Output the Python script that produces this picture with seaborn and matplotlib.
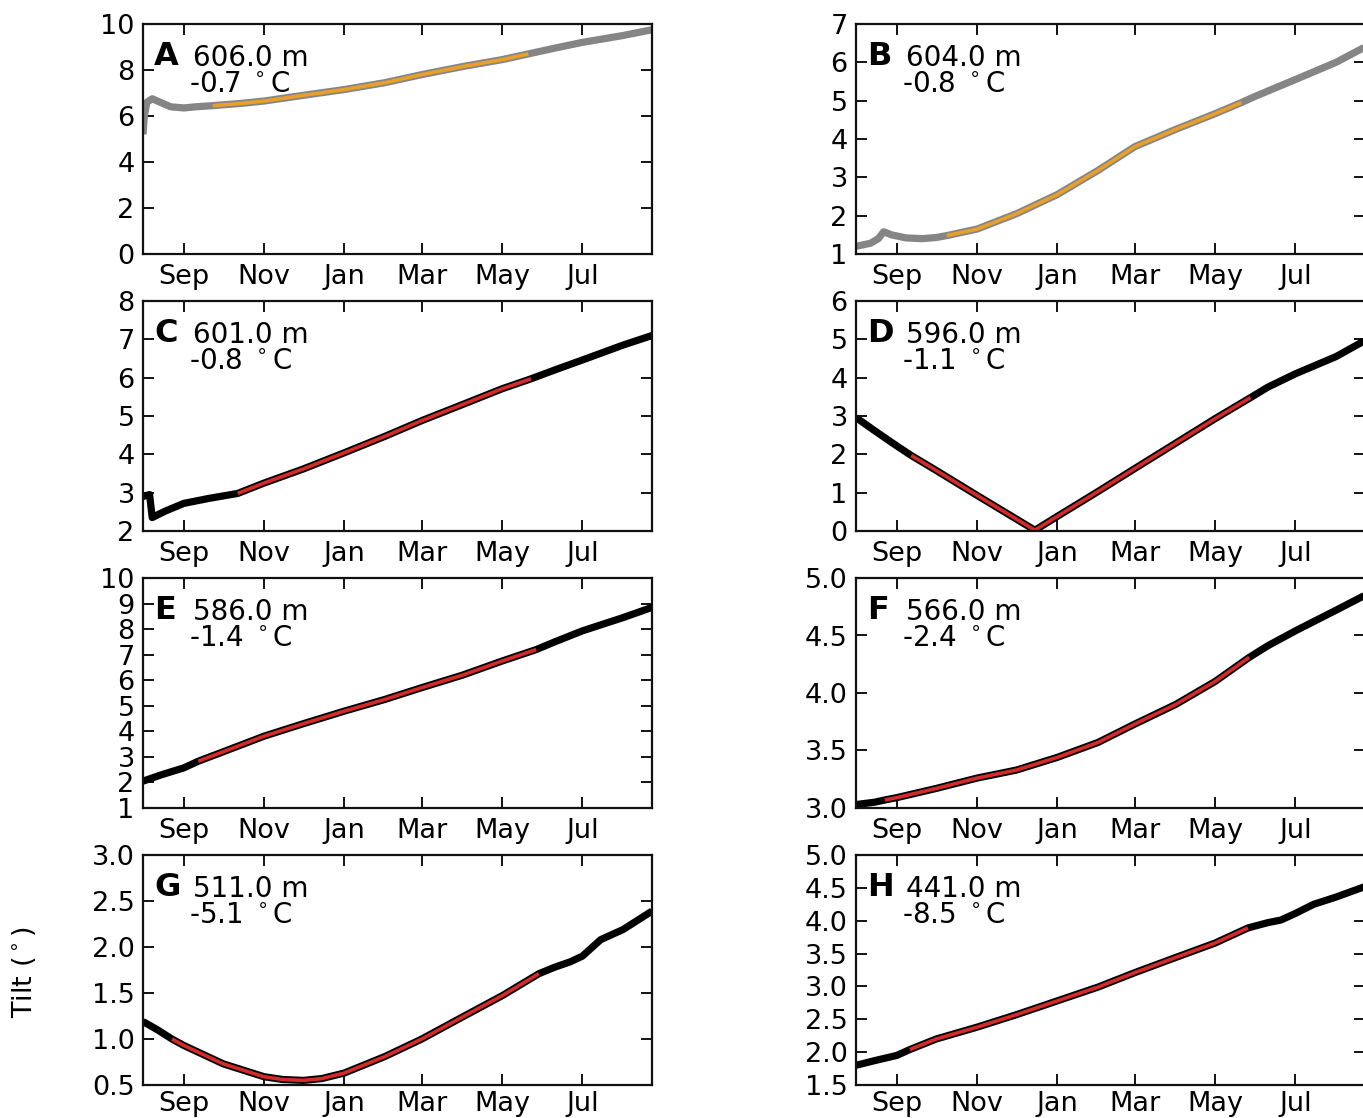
import matplotlib
matplotlib.use("Agg")
import matplotlib.pyplot as plt
import matplotlib.dates as mdates
import numpy as np
import pandas as pd
import seaborn as sns

# ---------------------------------------------------------------------------
# Borehole tilt records, one series per sensor depth
# ---------------------------------------------------------------------------
panel_letters = ["A", "B", "C", "D", "E", "F", "G", "H"]
depths_m = [606.0, 604.0, 601.0, 596.0, 586.0, 566.0, 511.0, 441.0]
temps_c = [-0.7, -0.8, -0.8, -1.1, -1.4, -2.4, -5.1, -8.5]

dates_a = ["2014-08-01", "2014-08-02", "2014-08-04", "2014-08-08", "2014-08-14",
           "2014-08-22", "2014-09-01", "2014-09-10", "2014-09-23", "2014-10-15",
           "2014-11-01", "2014-12-01", "2015-01-01", "2015-02-01", "2015-03-01",
           "2015-04-01", "2015-05-01", "2015-05-21", "2015-06-10", "2015-07-01",
           "2015-08-01", "2015-08-23"]
tilt_a = [5.2, 6.0, 6.6, 6.75, 6.6, 6.4, 6.35, 6.4, 6.45, 6.55,
          6.65, 6.9, 7.15, 7.45, 7.8, 8.15, 8.45, 8.7, 8.95, 9.2,
          9.5, 9.75]

dates_b = ["2014-08-01", "2014-08-12", "2014-08-18", "2014-08-22", "2014-08-28",
           "2014-09-08", "2014-09-20", "2014-10-01", "2014-10-09", "2014-11-01",
           "2014-12-01", "2015-01-01", "2015-02-01", "2015-03-01", "2015-04-01",
           "2015-05-01", "2015-05-21", "2015-06-01", "2015-07-01", "2015-08-01",
           "2015-08-23"]
tilt_b = [1.2, 1.28, 1.4, 1.58, 1.5, 1.42, 1.4, 1.43, 1.48, 1.65,
          2.05, 2.55, 3.18, 3.8, 4.25, 4.66, 4.95, 5.12, 5.55, 6.0,
          6.4]

dates_c = ["2014-08-01", "2014-08-06", "2014-08-08", "2014-08-12", "2014-08-18",
           "2014-09-01", "2014-09-20", "2014-10-12", "2014-11-01", "2014-12-01",
           "2015-01-01", "2015-02-01", "2015-03-01", "2015-04-01", "2015-05-01",
           "2015-05-23", "2015-06-10", "2015-07-01", "2015-08-01", "2015-08-23"]
tilt_c = [2.9, 2.95, 2.35, 2.42, 2.52, 2.72, 2.85, 2.98, 3.25, 3.62,
          4.04, 4.47, 4.88, 5.3, 5.71, 5.97, 6.2, 6.46, 6.85, 7.1]

dates_d = ["2014-08-01", "2014-08-15", "2014-09-01", "2014-09-12", "2014-10-01",
           "2014-11-01", "2014-12-01", "2014-12-15", "2015-01-01", "2015-02-01",
           "2015-03-01", "2015-04-01", "2015-05-01", "2015-05-28", "2015-06-10",
           "2015-07-01", "2015-08-01", "2015-08-23"]
tilt_d = [2.96, 2.62, 2.22, 1.97, 1.58, 0.93, 0.31, 0.02, 0.38, 1.03,
          1.63, 2.29, 2.93, 3.48, 3.75, 4.1, 4.55, 4.97]

dates_e = ["2014-08-01", "2014-08-15", "2014-09-01", "2014-09-12", "2014-10-01",
           "2014-11-01", "2014-12-01", "2015-01-01", "2015-02-01", "2015-03-01",
           "2015-04-01", "2015-05-01", "2015-05-27", "2015-06-10", "2015-07-01",
           "2015-08-01", "2015-08-23"]
tilt_e = [2.05, 2.3, 2.57, 2.83, 3.2, 3.81, 4.3, 4.79, 5.25, 5.71,
          6.2, 6.75, 7.2, 7.5, 7.93, 8.45, 8.85]

dates_f = ["2014-08-01", "2014-08-15", "2014-08-23", "2014-09-01", "2014-10-01",
           "2014-11-01", "2014-12-01", "2015-01-01", "2015-02-01", "2015-03-01",
           "2015-04-01", "2015-05-01", "2015-05-27", "2015-06-10", "2015-07-01",
           "2015-08-01", "2015-08-23"]
tilt_f = [3.03, 3.05, 3.07, 3.09, 3.17, 3.26, 3.33, 3.44, 3.57, 3.73,
          3.9, 4.1, 4.31, 4.41, 4.54, 4.72, 4.85]

dates_g = ["2014-08-01", "2014-08-12", "2014-08-23", "2014-09-01", "2014-10-01",
           "2014-11-01", "2014-11-15", "2014-12-01", "2014-12-15", "2015-01-01",
           "2015-02-01", "2015-03-01", "2015-04-01", "2015-05-01", "2015-05-29",
           "2015-06-10", "2015-06-22", "2015-07-01", "2015-07-15", "2015-08-01",
           "2015-08-23"]
tilt_g = [1.19, 1.1, 1.0, 0.93, 0.73, 0.59, 0.56, 0.55, 0.57, 0.63,
          0.81, 1.0, 1.24, 1.47, 1.71, 1.78, 1.84, 1.9, 2.08, 2.19,
          2.39]

dates_h = ["2014-08-01", "2014-08-15", "2014-09-01", "2014-09-11", "2014-10-01",
           "2014-11-01", "2014-12-01", "2015-01-01", "2015-02-01", "2015-03-01",
           "2015-04-01", "2015-05-01", "2015-05-26", "2015-06-10", "2015-06-20",
           "2015-07-01", "2015-07-15", "2015-08-01", "2015-08-23"]
tilt_h = [1.8, 1.87, 1.95, 2.04, 2.2, 2.38, 2.57, 2.78, 2.99, 3.21,
          3.44, 3.66, 3.89, 3.97, 4.01, 4.11, 4.25, 4.36, 4.52]

# start / end of the interval used for the creep fit in each panel
fit_start = ["2014-09-23", "2014-10-09", "2014-10-12", "2014-09-12",
             "2014-09-12", "2014-08-23", "2014-08-23", "2014-09-11"]
fit_end = ["2015-05-21", "2015-05-21", "2015-05-23", "2015-05-28",
           "2015-05-27", "2015-05-27", "2015-05-29", "2015-05-26"]

y_limits = [(0, 10), (1, 7), (2, 8), (0, 6), (1, 10), (3.0, 5.0), (0.5, 3.0), (1.5, 5.0)]
y_steps = [2, 1, 1, 1, 1, 0.5, 0.5, 0.5]

all_dates = [dates_a, dates_b, dates_c, dates_d, dates_e, dates_f, dates_g, dates_h]
all_tilts = [tilt_a, tilt_b, tilt_c, tilt_d, tilt_e, tilt_f, tilt_g, tilt_h]

x_range = ("2014-08-01", "2015-08-23")

# ---------------------------------------------------------------------------
sns.set_theme(style="ticks")
plt.rcParams["font.family"] = ["DejaVu Sans"]
plt.rcParams["mathtext.fontset"] = "dejavusans"
plt.rcParams["text.color"] = "black"

W, H = 1363, 1118
fig = plt.figure(figsize=(W / 100, H / 100), dpi=100)

ax_w = 509
ax_h = 230
col_x = [143, 856]
row_top = [24, 301, 578, 855]

tick_fs = 19.5
note_fs = 20

for i in range(8):
    row, col = divmod(i, 2)
    left = col_x[col] / W
    bottom = 1 - (row_top[row] + ax_h) / H
    ax = fig.add_axes([left, bottom, ax_w / W, ax_h / H])

    df = pd.DataFrame({"date": pd.to_datetime(all_dates[i]), "tilt": all_tilts[i]})
    fit = df[(df["date"] >= pd.Timestamp(fit_start[i])) & (df["date"] <= pd.Timestamp(fit_end[i]))]

    base_color = "#858585" if i < 2 else "black"
    fit_color = "#e8a02a" if i < 2 else "#d42a2a"

    sns.lineplot(data=df, x="date", y="tilt", ax=ax, color=base_color,
                 linewidth=5.2, estimator=None, solid_capstyle="butt")
    sns.lineplot(data=fit, x="date", y="tilt", ax=ax, color=fit_color,
                 linewidth=2.6, estimator=None, solid_capstyle="butt")

    ax.set_xlim(pd.Timestamp(x_range[0]), pd.Timestamp(x_range[1]))
    lo, hi = y_limits[i]
    ax.set_ylim(lo, hi)
    ax.set_yticks(np.arange(lo, hi + y_steps[i] / 2, y_steps[i]))
    if y_steps[i] < 1:
        ax.yaxis.set_major_formatter(matplotlib.ticker.FormatStrFormatter("%.1f"))
    else:
        ax.yaxis.set_major_formatter(matplotlib.ticker.FormatStrFormatter("%d"))

    ax.xaxis.set_major_locator(mdates.MonthLocator(bymonth=[9, 11, 1, 3, 5, 7]))
    ax.xaxis.set_major_formatter(mdates.DateFormatter("%b"))

    ax.set_xlabel("")
    ax.set_ylabel("")
    ax.tick_params(axis="both", which="major", direction="in", length=8, width=1.3,
                   top=True, right=True, labelsize=tick_fs, colors="black", pad=6)
    # bottom row keeps its month labels inside the figure
    ax.tick_params(axis="x", pad=4 if row == 3 else 7)
    for sp in ax.spines.values():
        sp.set_linewidth(1.6)
        sp.set_color("#111111")
        sp.set_visible(True)

    ax.text(11 / ax_w, 1 - 41 / ax_h, panel_letters[i], transform=ax.transAxes,
            fontsize=23, fontweight="bold", va="baseline", ha="left")
    ax.text(50 / ax_w, 1 - 42 / ax_h, f"{depths_m[i]:.1f} m", transform=ax.transAxes,
            fontsize=note_fs, va="baseline", ha="left")
    ax.text(46 / ax_w, 1 - 68 / ax_h, f"{temps_c[i]:.1f} $^\\circ$C", transform=ax.transAxes,
            fontsize=note_fs, va="baseline", ha="left")

fig.text(24 / W, 1 - 972 / H, "Tilt ($^\\circ$)", rotation=90, fontsize=19.5,
         ha="center", va="center")

fig.savefig("out.png", dpi=100)
